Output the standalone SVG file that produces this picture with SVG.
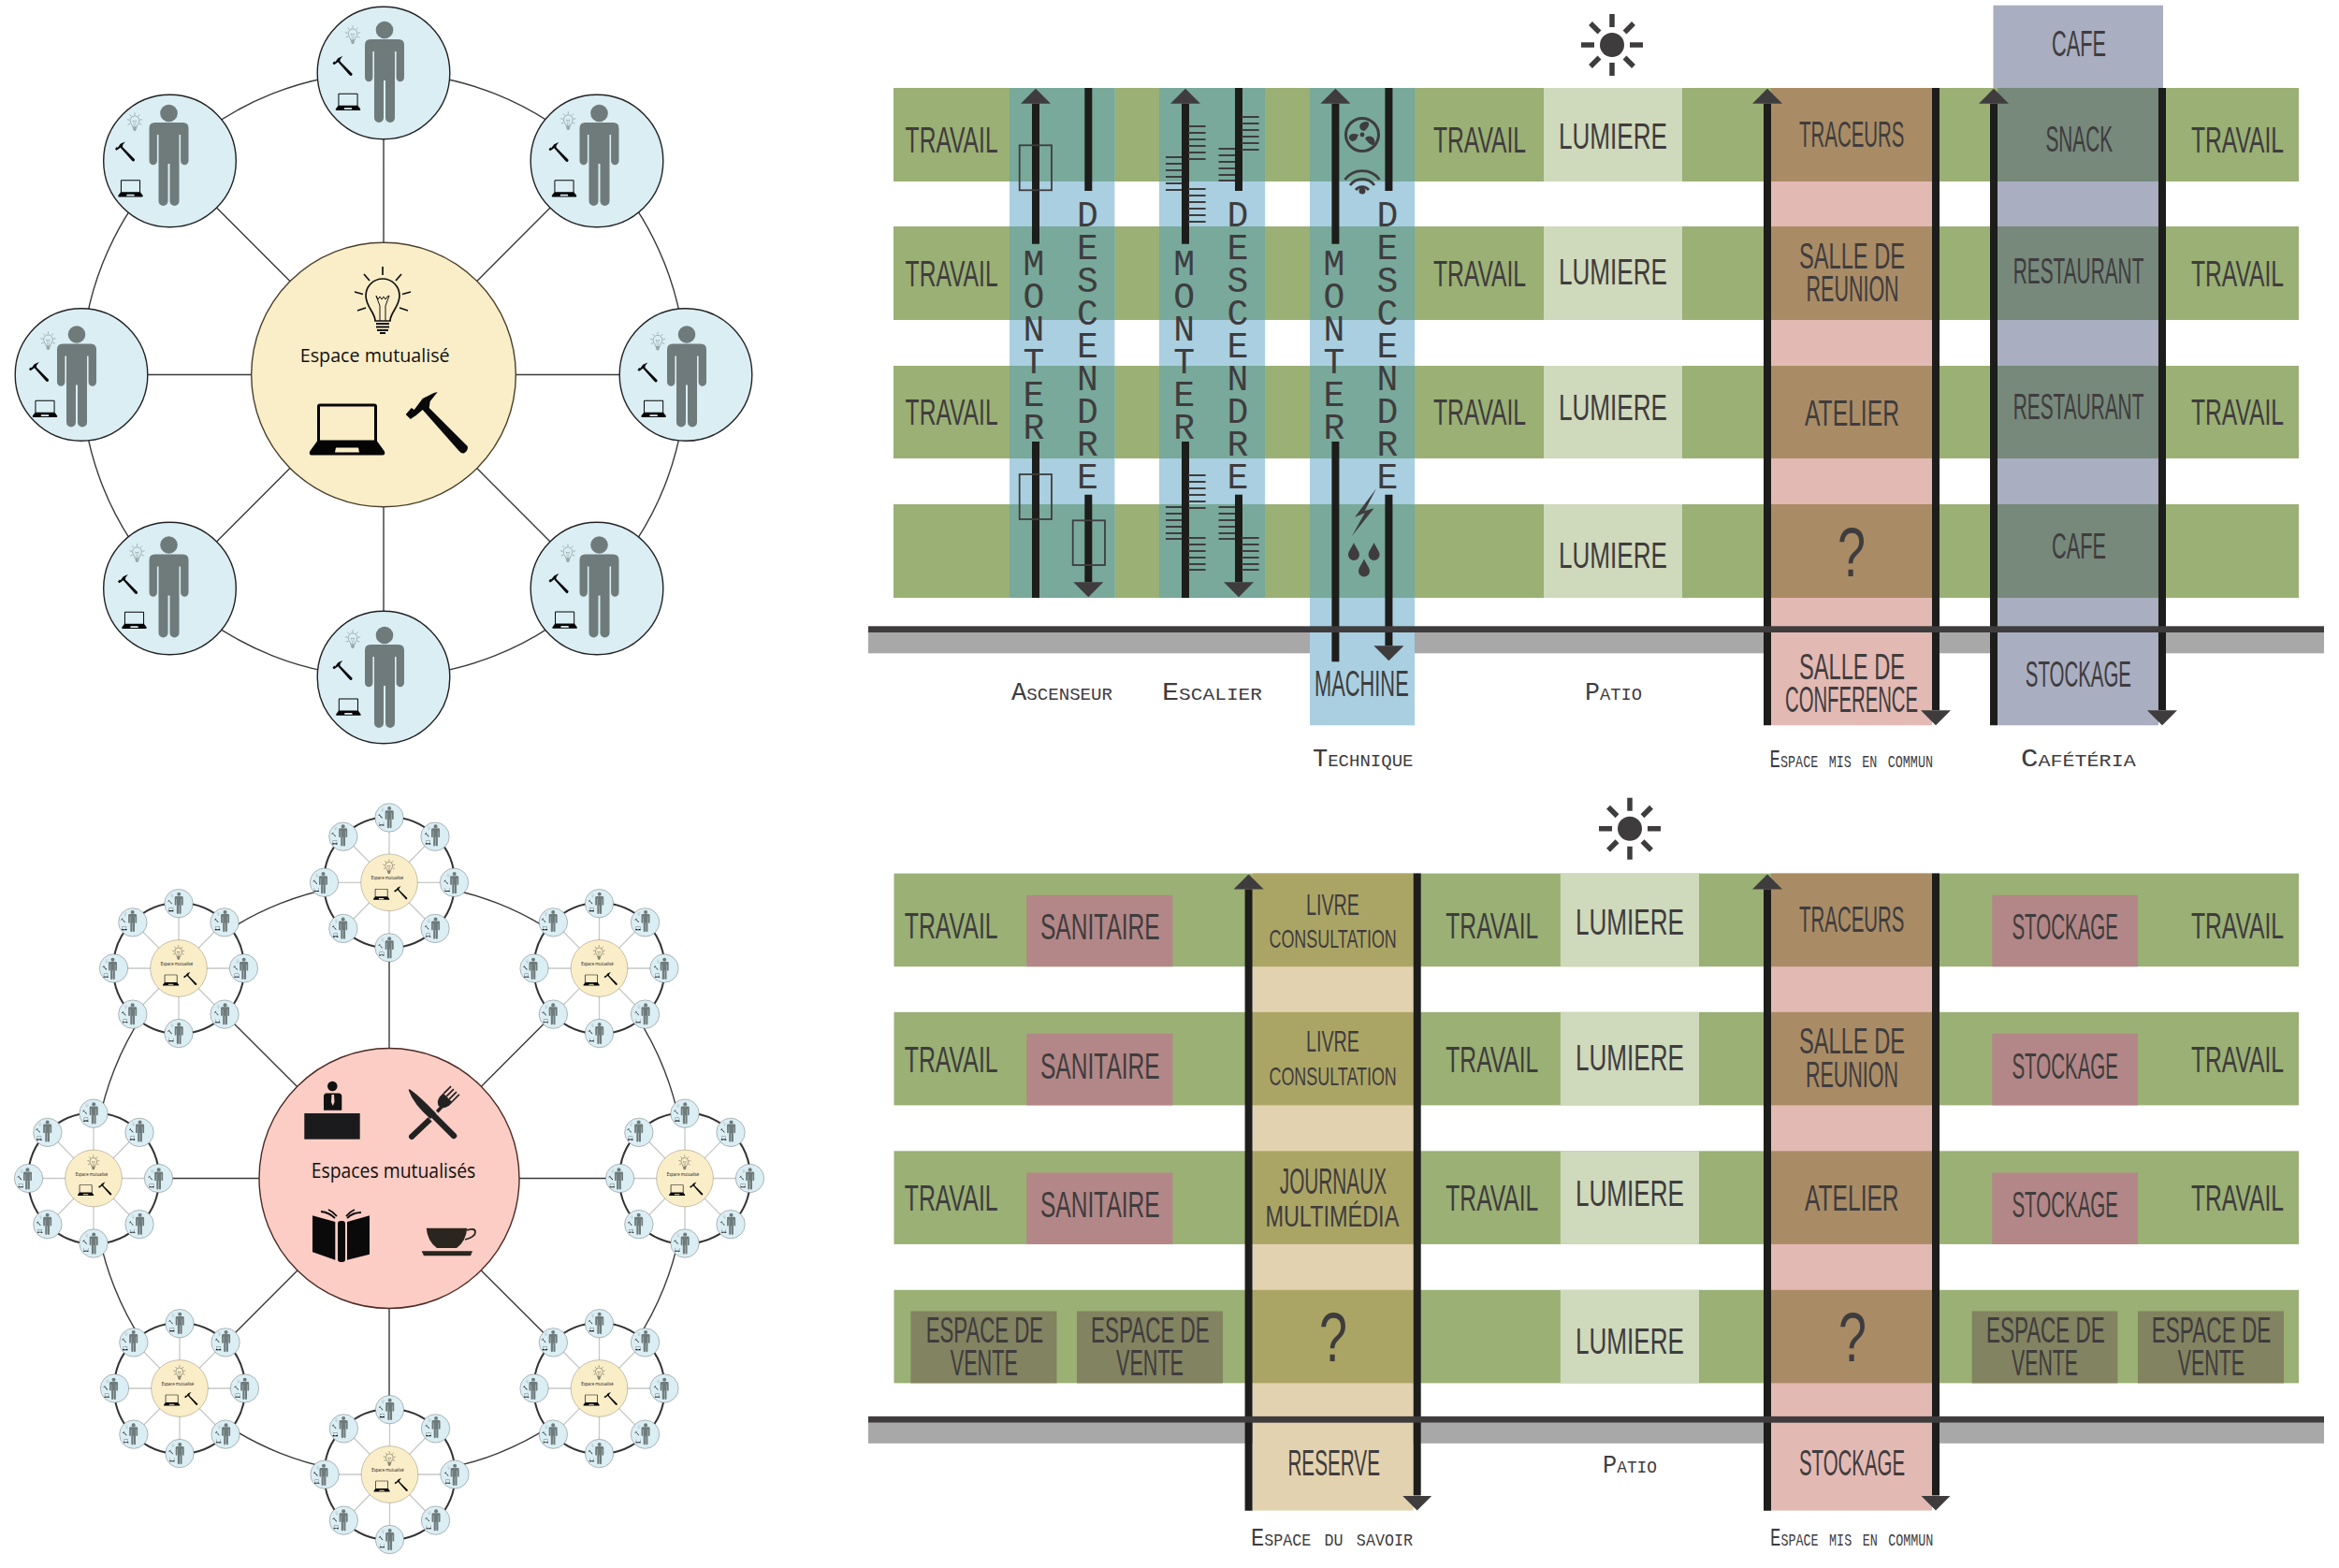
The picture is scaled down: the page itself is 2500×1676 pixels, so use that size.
<svg xmlns="http://www.w3.org/2000/svg" width="2500" height="1676" viewBox="0 0 2500 1676">
<style>
.w{fill:#fff}
.band{fill:#9ab074}
.lum{fill:#cfd9bb}
.blue{fill:#a9cfe0}.blueo{fill:#78a99a}
.pink{fill:#e3b9b3}.pinko{fill:#a98c65}
.caf{fill:#a9aec0}.cafo{fill:#76897b}
.sav{fill:#e3d2af}.savo{fill:#aba565}
.san{fill:#b38787}.ven{fill:#828360}
.gray{fill:#a9a8a8}.gl{fill:#3f3c3e}
.t{font-family:"Liberation Sans",Arial,sans-serif;font-size:38px;fill:#3f3c3e}
.t2{font-family:"Liberation Sans",Arial,sans-serif;font-size:31px;fill:#3f3c3e}
.t3{font-family:"Liberation Sans",Arial,sans-serif;font-size:28px;fill:#3f3c3e}
.q{font-family:"Liberation Sans",Arial,sans-serif;font-size:75px;fill:#3f3c3e}
.v{font-family:"Liberation Mono",monospace;font-size:38px;fill:#3f3c3e;writing-mode:vertical-rl;text-orientation:upright;letter-spacing:-8px}
.s{font-family:"Liberation Mono",monospace;font-size:27px;fill:#3f3c3e;font-variant:small-caps}
.shaft{stroke:#1d1d1b;stroke-width:8;fill:none}
.tick{stroke:#3f3c3e;stroke-width:2.2;fill:none}
.box{stroke:#3f3c3e;stroke-width:1.8;fill:none}
.ink{fill:#3f3c3e}
.nd{fill:#daeef4;stroke:#222;stroke-width:1.4}
.ctr{fill:#faeec9;stroke:#4a3f2a;stroke-width:1.4}
.ctr2{fill:#fbcdc5;stroke:#4d2a25;stroke-width:1.4}
.ln{fill:none;stroke:#3a3a3a;stroke-width:1.4}
.lab{font-family:"Open Sans","Noto Sans",sans-serif;fill:#111}
.small{color:#5a6664}
.mr{fill:none;stroke:#333;stroke-width:2}
.ms{stroke:#c6c9c6;stroke-width:1.3}
</style>
<defs>
<marker id="ah" markerUnits="userSpaceOnUse" markerWidth="16" markerHeight="32" viewBox="0 0 16 32" refX="0" refY="16" orient="auto"><path d="M0,0 L16,16 L0,32 Z" fill="#3f3c3e"/></marker>
<g id="bulb" fill="none" stroke="currentColor" stroke-width="1.7">
<path d="M-8,26 C-8,17 -18,11 -18,-1 A18,18 0 1 1 18,-1 C18,11 8,17 8,26 Z"/>
<path stroke-width="1" d="M-7,-1 L-5,3 -3,0 -1,3 1,0 3,3 5,0 7,-1 L3,10 V26 M-7,-1 L-3,10 V26"/>
<path stroke-width="2" d="M-7,29 H7 M-7,32.5 H7 M-6,36 H6 M-3,39 H3"/>
<path d="M0,-32 V-23 M-20,-24 L-14,-17 M20,-24 L14,-17 M-30,-5 L-21,-2.5 M30,-5 L21,-2.5 M-27,15 L-18,12 M27,15 L18,12"/>
</g>
<path id="laptop" fill-rule="evenodd" fill="#050505" d="M-32,-25 Q-32,-28 -29,-28 H29 Q32,-28 32,-25 V12 L40,23 Q41,27 38,27 H-38 Q-41,27 -40,23 L-32,12 Z M-29,-25 V11 H29 V-25 Z M-12,19 H12 L13,24 H-13 Z"/>
<path id="hammer" fill="#0a0a0a" d="M-33,-7 L-27,-14 L-24,-12 L-15,-24 L-3,-30 L1,-31 L-7,-21 L-8,-14 L33,27 Q34,31 30,34 Q27,36 23,31 L-15,-12 L-22,-6 L-28,-2 Z"/>
<g id="person" fill="#6f7b7b"><circle cy="-45" r="9.3"/><path d="M-15,-35 H15 Q21,-35 21,-29 V6 A4.2,4.2 0 0 1 12.6,6 V-22 H11 V49 A5,5 0 0 1 1,49 V9 H-1 V49 A5,5 0 0 1 -11,49 V-22 H-12.6 V6 A4.2,4.2 0 0 1 -21,6 V-29 Q-21,-35 -15,-35 Z"/></g>
<path id="drop" class="ink" d="M0,-9 C2,-4 6,0 6,4 A6,6 0 0 1 -6,4 C-6,0 -2,-4 0,-9Z"/>
<g id="sun"><circle r="13" class="ink"/><path stroke="#3f3c3e" stroke-width="5.5" d="M0,-33 V-19 M0,33 V19 M-33,0 H-19 M33,0 H19 M-23,-23 L-13.5,-13.5 M23,-23 L13.5,-13.5 M-23,23 L-13.5,13.5 M23,23 L13.5,13.5"/></g>
<g id="mini">
<circle r="76" class="w"/>
<circle r="70" class="mr"/>
<path class="ms" d="M0,-70 V70 M-70,0 H70 M-49,-50 L49,50 M-49,50 L49,-50"/>
<use href="#cluster-nodes" transform="scale(.215) translate(-410,-400.5)"/>
</g>
</defs>
<rect width="2500" height="1676" fill="#fff"/>

<g id="connectors-main">
<circle cx="410" cy="400.5" r="323" class="ln"/>
<path class="ln" d="M410,78 V724 M87,400.5 H733 M181.5,172 L638,629 M181.5,629 L638,172"/>
</g>
<g id="cluster-nodes">
<g id="center-main">
<circle cx="410" cy="400.5" r="141.3" class="ctr"/>
<use href="#bulb" x="409" y="317" color="#111"/>
<text class="lab" x="320.7" y="387.3" font-size="20.5" textLength="160" lengthAdjust="spacingAndGlyphs">Espace mutualisé</text>
<use href="#laptop" x="371" y="459.5"/>
<use href="#hammer" x="466.7" y="450"/>
</g>
<g id="node-top" transform="translate(0,-1)"><circle cx="410" cy="79" r="70.8" class="nd"/><use href="#person" x="411" y="78"/><g class="small"><use href="#bulb" transform="translate(377,37) scale(.27)"/></g><use href="#hammer" transform="translate(366,71) scale(.32)"/><use href="#laptop" transform="translate(372,110) scale(.33)"/></g>
<g id="node-upper-left" transform="translate(0,-2)"><circle cx="181.5" cy="174" r="70.8" class="nd"/><use href="#person" x="180.5" y="168"/><g class="small"><use href="#bulb" transform="translate(144,131) scale(.27)"/></g><use href="#hammer" transform="translate(133.5,163.5) scale(.32)"/><use href="#laptop" transform="translate(139.5,203.5) scale(.33)"/></g>
<g id="node-upper-right" transform="translate(0,-2)"><circle cx="638" cy="174" r="70.8" class="nd"/><use href="#person" x="640.5" y="168"/><g class="small"><use href="#bulb" transform="translate(607.3,130) scale(.27)"/></g><use href="#hammer" transform="translate(597,164) scale(.32)"/><use href="#laptop" transform="translate(603,203.5) scale(.33)"/></g>
<g id="node-left" transform="translate(0,-5)"><circle cx="87" cy="405.5" r="70.8" class="nd"/><use href="#person" x="82" y="407.5"/><g class="small"><use href="#bulb" transform="translate(51.5,368) scale(.27)"/></g><use href="#hammer" transform="translate(41.5,402) scale(.32)"/><use href="#laptop" transform="translate(48,442) scale(.33)"/></g>
<g id="node-right" transform="translate(0,-5)"><circle cx="733" cy="405.5" r="70.8" class="nd"/><use href="#person" x="734" y="407.5"/><g class="small"><use href="#bulb" transform="translate(703,368.5) scale(.27)"/></g><use href="#hammer" transform="translate(692,402.5) scale(.32)"/><use href="#laptop" transform="translate(698.6,442) scale(.33)"/></g>
<g id="node-bottom" transform="translate(0,-9)"><circle cx="410" cy="733" r="70.8" class="nd"/><use href="#person" x="411" y="733"/><g class="small"><use href="#bulb" transform="translate(377,691) scale(.27)"/></g><use href="#hammer" transform="translate(366,725) scale(.32)"/><use href="#laptop" transform="translate(372.4,764.8) scale(.33)"/></g>
<g id="node-lower-left" transform="translate(0,-8)"><circle cx="181.5" cy="637" r="70.8" class="nd"/><use href="#person" x="180.5" y="635.5"/><g class="small"><use href="#bulb" transform="translate(146.5,598) scale(.27)"/></g><use href="#hammer" transform="translate(136.5,632) scale(.32)"/><use href="#laptop" transform="translate(143.5,671) scale(.33)"/></g>
<g id="node-lower-right" transform="translate(0,-8)"><circle cx="638" cy="637" r="70.8" class="nd"/><use href="#person" x="640.5" y="635.5"/><g class="small"><use href="#bulb" transform="translate(607,598) scale(.27)"/></g><use href="#hammer" transform="translate(597,631.2) scale(.32)"/><use href="#laptop" transform="translate(603.6,670.8) scale(.33)"/></g>
</g>

<g id="connectors-network">
<circle cx="416" cy="1259.5" r="316" class="ln"/>
<path class="ln" d="M416,943 V1576 M100,1259.5 H732 M191,1035 L640.5,1484 M192,1484 L640.5,1035"/>
</g>
<g id="center-network">
<circle cx="416" cy="1259.5" r="139" class="ctr2"/>
<g id="desk"><rect x="325.3" y="1190" width="59.4" height="27.7" fill="#1b1b1d"/><circle cx="355.3" cy="1161" r="5.3" fill="#111"/><path fill-rule="evenodd" fill="#111" d="M349,1168.5 H362 Q365.3,1168.5 365.3,1172 V1186.7 H346 V1172 Q346,1168.5 349,1168.5 Z M354.5,1170 L354,1178 L355.8,1182 L357.5,1178 L357,1170 Z"/></g>
<g id="cutlery"><path d="M440,1215 L460,1196" stroke="#222" stroke-width="6" stroke-linecap="round"/><path d="M460,1196 L474,1181" stroke="#222" stroke-width="3.5"/><g transform="translate(473,1179) rotate(45)" fill="none" stroke="#222"><path fill="#222" stroke="none" d="M-7,-8 H7 V-3 Q6,3 1.5,5 H-1.5 Q-6,3 -7,-3 Z"/><path stroke-width="1.7" d="M-6.2,-8 V-19 M-2.1,-8 V-19 M2.1,-8 V-19 M6.2,-8 V-19"/></g><path d="M441,1170 L484,1213" stroke="#fbcdc5" stroke-width="11"/><path d="M461,1190 L485,1214" stroke="#222" stroke-width="6.5" stroke-linecap="round"/><path d="M437,1166 Q436,1163 439,1165 Q450,1173 466,1190 L460,1196 Q442,1180 437,1166 Z" fill="#222"/></g>
<text class="lab" x="332.7" y="1259.3" font-size="21.5" textLength="175.6" lengthAdjust="spacingAndGlyphs">Espaces mutualisés</text>
<g id="book" fill="#0a0a0a"><path d="M334,1299.3 L358.3,1306 V1346.7 L334,1338.3 Z M371,1306 L395,1299.3 V1340.7 L371,1346.7 Z"/><rect x="361" y="1305" width="8" height="44" rx="3"/><path fill="none" stroke="#0a0a0a" stroke-width="1.8" d="M343,1295 Q352,1296 358,1302 M351,1293 Q356,1295 360,1300 M371,1302 Q377,1296 386,1296 M370,1300 Q374,1295 379,1293"/></g>
<g id="cup" fill="#2a251f"><path d="M455.7,1312.7 H499.3 Q498,1327 488,1334 H467 Q457,1327 455.7,1312.7 Z"/><path fill="none" stroke="#2a251f" stroke-width="1.8" d="M499,1315 Q508,1312 508,1317 Q508,1322 497,1325"/><path d="M450.7,1337.3 H505 L503,1342.3 H453 Z"/></g>
</g>
<g id="cluster-n1"><use href="#mini" x="416" y="943.3"/></g>
<g id="cluster-n2"><use href="#mini" x="640.5" y="1035"/></g>
<g id="cluster-n3"><use href="#mini" x="732" y="1259.5"/></g>
<g id="cluster-n4"><use href="#mini" x="640.5" y="1484"/></g>
<g id="cluster-n5"><use href="#mini" x="416.5" y="1576"/></g>
<g id="cluster-n6"><use href="#mini" x="192" y="1484"/></g>
<g id="cluster-n7"><use href="#mini" x="100" y="1259.5"/></g>
<g id="cluster-n8"><use href="#mini" x="191" y="1035"/></g>

<g id="section-top">
<use href="#sun" x="1723" y="48"/>
<g id="bands-top">
<rect class="band" x="955" y="94" width="1502" height="100"/><rect class="band" x="955" y="242" width="1502" height="100"/><rect class="band" x="955" y="391" width="1502" height="99"/><rect class="band" x="955" y="539" width="1502" height="100"/>
<rect class="lum" x="1650" y="94" width="148" height="100"/><rect class="lum" x="1650" y="242" width="148" height="100"/><rect class="lum" x="1650" y="391" width="148" height="99"/><rect class="lum" x="1650" y="539" width="148" height="100"/>
<rect class="gray" x="928" y="676" width="1556" height="22.3"/>
</g>
<g id="col-ascenseur">
<rect class="blue" x="1079" y="94" width="112.4" height="545"/>
<rect class="blueo" x="1079" y="94" width="112.4" height="100"/><rect class="blueo" x="1079" y="242" width="112.4" height="100"/><rect class="blueo" x="1079" y="391" width="112.4" height="99"/><rect class="blueo" x="1079" y="539" width="112.4" height="100"/>
</g>
<g id="col-escalier">
<rect class="blue" x="1239" y="94" width="113" height="545"/>
<rect class="blueo" x="1239" y="94" width="113" height="100"/><rect class="blueo" x="1239" y="242" width="113" height="100"/><rect class="blueo" x="1239" y="391" width="113" height="99"/><rect class="blueo" x="1239" y="539" width="113" height="100"/>
</g>
<g id="col-technique">
<rect class="blue" x="1400" y="94" width="112" height="681.3"/>
<rect class="blueo" x="1400" y="94" width="112" height="100"/><rect class="blueo" x="1400" y="242" width="112" height="100"/><rect class="blueo" x="1400" y="391" width="112" height="99"/><rect class="blueo" x="1400" y="539" width="112" height="100"/>
</g>
<g id="col-commun-top">
<rect class="pink" x="1893" y="94" width="172" height="681.3"/>
<rect class="pinko" x="1893" y="94" width="172" height="100"/><rect class="pinko" x="1893" y="242" width="172" height="100"/><rect class="pinko" x="1893" y="391" width="172" height="99"/><rect class="pinko" x="1893" y="539" width="172" height="100"/>
</g>
<g id="col-cafeteria">
<rect class="caf" x="2130.5" y="5.7" width="181.5" height="88.3"/>
<rect class="caf" x="2135" y="94" width="172" height="681.3"/>
<rect class="cafo" x="2135" y="94" width="172" height="100"/><rect class="cafo" x="2135" y="242" width="172" height="100"/><rect class="cafo" x="2135" y="391" width="172" height="99"/><rect class="cafo" x="2135" y="539" width="172" height="100"/>
</g>
<g id="connectors-top">
<path class="shaft" d="M1107,472 V639"/>
<line class="shaft" x1="1107" y1="260.7" x2="1107" y2="110.7" marker-end="url(#ah)"/>
<path class="shaft" d="M1163.3,94 V204"/>
<line class="shaft" x1="1163.3" y1="528.7" x2="1163.3" y2="622.3" marker-end="url(#ah)"/>
<path class="shaft" d="M1267,472 V639"/>
<line class="shaft" x1="1267" y1="260.7" x2="1267" y2="110.7" marker-end="url(#ah)"/>
<path class="shaft" d="M1324,94 V204"/>
<line class="shaft" x1="1324" y1="528.7" x2="1324" y2="622.3" marker-end="url(#ah)"/>
<path class="shaft" d="M1427.4,472 V707.3"/>
<line class="shaft" x1="1427.4" y1="260.7" x2="1427.4" y2="110.7" marker-end="url(#ah)"/>
<path class="shaft" d="M1484.4,94 V204"/>
<line class="shaft" x1="1484.4" y1="528.7" x2="1484.4" y2="690.3" marker-end="url(#ah)"/>
<line class="shaft" x1="1889" y1="775.3" x2="1889" y2="110.7" marker-end="url(#ah)"/>
<line class="shaft" x1="2069" y1="94" x2="2069" y2="759.3" marker-end="url(#ah)"/>
<line class="shaft" x1="2131" y1="775.3" x2="2131" y2="110.7" marker-end="url(#ah)"/>
<line class="shaft" x1="2311" y1="94" x2="2311" y2="759.3" marker-end="url(#ah)"/>
</g>
<rect class="gl" x="928" y="669.3" width="1556" height="6.7"/>
<g id="lifts"><rect class="box" x="1089.7" y="155.3" width="34.3" height="48"/><rect class="box" x="1089.7" y="507" width="34.3" height="48"/><rect class="box" x="1146.7" y="556.3" width="34.3" height="47.7"/></g>
<g id="stairs">
<path class="tick" d="M1270,135 H1288.6 M1270,142 H1288.6 M1270,149 H1288.6 M1270,156 H1288.6 M1270,163 H1288.6 M1270,170 H1288.6 M1246,168 H1263 M1246,175 H1263 M1246,182 H1263 M1246,189 H1263 M1246,196 H1263 M1246,203 H1263 M1270,202 H1288.6 M1270,209 H1288.6 M1270,216 H1288.6 M1270,223 H1288.6 M1270,230 H1288.6 M1270,237 H1288.6"/>
<path class="tick" d="M1327,125 H1345.6 M1327,132 H1345.6 M1327,139 H1345.6 M1327,146 H1345.6 M1327,153 H1345.6 M1327,160 H1345.6 M1302.5,159 H1320 M1302.5,166 H1320 M1302.5,173 H1320 M1302.5,180 H1320 M1302.5,187 H1320 M1302.5,193 H1320"/>
<path class="tick" d="M1270,508 H1288.6 M1270,515 H1288.6 M1270,522 H1288.6 M1270,529 H1288.6 M1270,536 H1288.6 M1270,543 H1288.6 M1246,542 H1263 M1246,549 H1263 M1246,556 H1263 M1246,563 H1263 M1246,570 H1263 M1246,576 H1263 M1270,575 H1288.6 M1270,582 H1288.6 M1270,589 H1288.6 M1270,596 H1288.6 M1270,603 H1288.6 M1270,609 H1288.6"/>
<path class="tick" d="M1302.5,542 H1320 M1302.5,549 H1320 M1302.5,556 H1320 M1302.5,563 H1320 M1302.5,570 H1320 M1302.5,576 H1320 M1327,575 H1345.6 M1327,582 H1345.6 M1327,589 H1345.6 M1327,596 H1345.6 M1327,603 H1345.6 M1327,609 H1345.6"/>
</g>
<g id="technique-icons">
<circle cx="1456" cy="144" r="17.5" fill="none" stroke="#3f3c3e" stroke-width="3"/><circle cx="1456" cy="144" r="2.4" class="ink"/>
<path class="ink" d="M1455,139 C1451,135 1454,130 1461,130 C1465,131 1463,137 1458,140 Z M1461,146 C1466,144 1471,148 1469,154 C1466,157 1462,152 1459,148 Z M1451,146 C1450,151 1444,153 1442,148 C1441,143 1447,142 1452,144 Z"/>
<path fill="none" stroke="#3f3c3e" stroke-width="2.8" d="M1437.5,192 A23,23 0 0 1 1474.5,192 M1443,198 A16,16 0 0 1 1469,198 M1449,203 A9,9 0 0 1 1463,203"/><circle cx="1456" cy="204" r="3.5" class="ink"/>
<polygon class="ink" points="1471,522.3 1448,552.7 1458.7,548.3 1444.8,573.3 1468.6,543.3 1458.7,546"/>
<use href="#drop" x="1447" y="589"/><use href="#drop" x="1468.6" y="589"/><use href="#drop" x="1458" y="606.5"/>
</g>
<g id="labels-top">
<text class="v" x="1105" y="261.7">MONTER</text>
<text class="v" x="1162.5" y="210.4">DESCENDRE</text>
<text class="v" x="1265.7" y="261.7">MONTER</text>
<text class="v" x="1323" y="210.4">DESCENDRE</text>
<text class="v" x="1426" y="261.7">MONTER</text>
<text class="v" x="1483" y="210.4">DESCENDRE</text>
<text class="t" x="967.6" y="163.3" textLength="99" lengthAdjust="spacingAndGlyphs">TRAVAIL</text>
<text class="t" x="967.6" y="306" textLength="99" lengthAdjust="spacingAndGlyphs">TRAVAIL</text>
<text class="t" x="967.6" y="454.3" textLength="99" lengthAdjust="spacingAndGlyphs">TRAVAIL</text>
<text class="t" x="1532" y="163.3" textLength="99" lengthAdjust="spacingAndGlyphs">TRAVAIL</text>
<text class="t" x="1532" y="306" textLength="99" lengthAdjust="spacingAndGlyphs">TRAVAIL</text>
<text class="t" x="1532" y="454.3" textLength="99" lengthAdjust="spacingAndGlyphs">TRAVAIL</text>
<text class="t" x="2342" y="163.3" textLength="99" lengthAdjust="spacingAndGlyphs">TRAVAIL</text>
<text class="t" x="2342" y="306" textLength="99" lengthAdjust="spacingAndGlyphs">TRAVAIL</text>
<text class="t" x="2342" y="454.3" textLength="99" lengthAdjust="spacingAndGlyphs">TRAVAIL</text>
<text class="t" x="1666" y="158.5" textLength="116" lengthAdjust="spacingAndGlyphs">LUMIERE</text>
<text class="t" x="1666" y="303.5" textLength="116" lengthAdjust="spacingAndGlyphs">LUMIERE</text>
<text class="t" x="1666" y="448.5" textLength="116" lengthAdjust="spacingAndGlyphs">LUMIERE</text>
<text class="t" x="1666" y="606.5" textLength="116" lengthAdjust="spacingAndGlyphs">LUMIERE</text>
<text class="t" x="1405" y="744" textLength="100.7" lengthAdjust="spacingAndGlyphs">MACHINE</text>
<text class="t" x="1923" y="156.7" textLength="112.5" lengthAdjust="spacingAndGlyphs">TRACEURS</text>
<text class="t" x="1923" y="286.7" textLength="113" lengthAdjust="spacingAndGlyphs">SALLE DE</text>
<text class="t" x="1930.6" y="321.7" textLength="99" lengthAdjust="spacingAndGlyphs">REUNION</text>
<text class="t" x="1929" y="455" textLength="101" lengthAdjust="spacingAndGlyphs">ATELIER</text>
<text class="q" x="1964" y="616" textLength="30" lengthAdjust="spacingAndGlyphs">?</text>
<text class="t" x="1923" y="726" textLength="113" lengthAdjust="spacingAndGlyphs">SALLE DE</text>
<text class="t" x="1908" y="761" textLength="142" lengthAdjust="spacingAndGlyphs">CONFERENCE</text>
<text class="t" x="2193" y="60" textLength="58" lengthAdjust="spacingAndGlyphs">CAFE</text>
<text class="t" x="2186.4" y="161.7" textLength="71.6" lengthAdjust="spacingAndGlyphs">SNACK</text>
<text class="t" x="2151.7" y="303.3" textLength="139.7" lengthAdjust="spacingAndGlyphs">RESTAURANT</text>
<text class="t" x="2151.7" y="448.3" textLength="139.7" lengthAdjust="spacingAndGlyphs">RESTAURANT</text>
<text class="t" x="2193" y="596.7" textLength="58" lengthAdjust="spacingAndGlyphs">CAFE</text>
<text class="t" x="2164.8" y="734" textLength="113.2" lengthAdjust="spacingAndGlyphs">STOCKAGE</text>
<text class="s" x="1081" y="748" textLength="108" lengthAdjust="spacingAndGlyphs">Ascenseur</text>
<text class="s" x="1242" y="748" textLength="107" lengthAdjust="spacingAndGlyphs">Escalier</text>
<text class="s" x="1403" y="819" textLength="107.5" lengthAdjust="spacingAndGlyphs">Technique</text>
<text class="s" x="1694" y="748" textLength="61" lengthAdjust="spacingAndGlyphs">Patio</text>
<text class="s" x="1891.6" y="820" textLength="174.4" lengthAdjust="spacingAndGlyphs">Espace mis en commun</text>
<text class="s" x="2160" y="819" textLength="122.7" lengthAdjust="spacingAndGlyphs">Cafétéria</text>
</g>
</g>

<g id="section-bottom" transform="translate(0,-1.2)">
<use href="#sun" x="1742" y="887"/>
<g id="bands-bottom">
<rect class="band" x="955.5" y="934.8" width="1501.5" height="99.6"/><rect class="band" x="955.5" y="1083" width="1501.5" height="99.6"/><rect class="band" x="955.5" y="1231.5" width="1501.5" height="99.6"/><rect class="band" x="955.5" y="1380" width="1501.5" height="99.6"/>
<rect class="lum" x="1667.8" y="934.8" width="148.2" height="99.6"/><rect class="lum" x="1667.8" y="1083" width="148.2" height="99.6"/><rect class="lum" x="1667.8" y="1231.5" width="148.2" height="99.6"/><rect class="lum" x="1667.8" y="1380" width="148.2" height="99.6"/>
<rect class="san" x="1097.3" y="958" width="156.2" height="76.4"/><rect class="san" x="1097.3" y="1106" width="156.2" height="76.6"/><rect class="san" x="1097.3" y="1254.6" width="156.2" height="76.5"/>
<rect class="san" x="2129.3" y="958" width="155.7" height="76.4"/><rect class="san" x="2129.3" y="1106" width="155.7" height="76.6"/><rect class="san" x="2129.3" y="1254.6" width="155.7" height="76.5"/>
<rect class="ven" x="973.4" y="1402.7" width="156.1" height="76.9"/><rect class="ven" x="1151" y="1402.7" width="156" height="76.9"/><rect class="ven" x="2107.7" y="1402.7" width="155.7" height="76.9"/><rect class="ven" x="2285" y="1402.7" width="156" height="76.9"/>
<rect class="gray" x="928" y="1521.9" width="1556" height="22.1"/>
</g>
<g id="col-savoir">
<rect class="sav" x="1338.7" y="934.8" width="172" height="681"/>
<rect class="savo" x="1338.7" y="934.8" width="172" height="99.6"/><rect class="savo" x="1338.7" y="1083" width="172" height="99.6"/><rect class="savo" x="1338.7" y="1231.5" width="172" height="99.6"/><rect class="savo" x="1338.7" y="1380" width="172" height="99.6"/>
</g>
<g id="col-commun-bottom">
<rect class="pink" x="1893" y="934.8" width="172" height="681"/>
<rect class="pinko" x="1893" y="934.8" width="172" height="99.6"/><rect class="pinko" x="1893" y="1083" width="172" height="99.6"/><rect class="pinko" x="1893" y="1231.5" width="172" height="99.6"/><rect class="pinko" x="1893" y="1380" width="172" height="99.6"/>
</g>
<g id="connectors-bottom">
<line class="shaft" x1="1334.6" y1="1616" x2="1334.6" y2="951.7" marker-end="url(#ah)"/>
<line class="shaft" x1="1514.7" y1="934.8" x2="1514.7" y2="1599.7" marker-end="url(#ah)"/>
<line class="shaft" x1="1889" y1="1616" x2="1889" y2="951.7" marker-end="url(#ah)"/>
<line class="shaft" x1="2069" y1="934.8" x2="2069" y2="1599.7" marker-end="url(#ah)"/>
</g>
<rect class="gl" x="928" y="1515.1" width="1556" height="6.8"/>
<g id="labels-bottom">
<text class="t" x="966.7" y="1003.8" textLength="100" lengthAdjust="spacingAndGlyphs">TRAVAIL</text>
<text class="t" x="966.7" y="1147.7" textLength="100" lengthAdjust="spacingAndGlyphs">TRAVAIL</text>
<text class="t" x="966.7" y="1295.7" textLength="100" lengthAdjust="spacingAndGlyphs">TRAVAIL</text>
<text class="t" x="1545.3" y="1003.8" textLength="99" lengthAdjust="spacingAndGlyphs">TRAVAIL</text>
<text class="t" x="1545.3" y="1147.7" textLength="99" lengthAdjust="spacingAndGlyphs">TRAVAIL</text>
<text class="t" x="1545.3" y="1295.7" textLength="99" lengthAdjust="spacingAndGlyphs">TRAVAIL</text>
<text class="t" x="2342" y="1003.8" textLength="99" lengthAdjust="spacingAndGlyphs">TRAVAIL</text>
<text class="t" x="2342" y="1147.7" textLength="99" lengthAdjust="spacingAndGlyphs">TRAVAIL</text>
<text class="t" x="2342" y="1295.7" textLength="99" lengthAdjust="spacingAndGlyphs">TRAVAIL</text>
<text class="t" x="1112" y="1005.4" textLength="127.7" lengthAdjust="spacingAndGlyphs">SANITAIRE</text>
<text class="t" x="1112" y="1154" textLength="127.7" lengthAdjust="spacingAndGlyphs">SANITAIRE</text>
<text class="t" x="1112" y="1302" textLength="127.7" lengthAdjust="spacingAndGlyphs">SANITAIRE</text>
<text class="t" x="2150.4" y="1005.4" textLength="113.6" lengthAdjust="spacingAndGlyphs">STOCKAGE</text>
<text class="t" x="2150.4" y="1154" textLength="113.6" lengthAdjust="spacingAndGlyphs">STOCKAGE</text>
<text class="t" x="2150.4" y="1302" textLength="113.6" lengthAdjust="spacingAndGlyphs">STOCKAGE</text>
<text class="t" x="1684" y="1000" textLength="116" lengthAdjust="spacingAndGlyphs">LUMIERE</text>
<text class="t" x="1684" y="1145" textLength="116" lengthAdjust="spacingAndGlyphs">LUMIERE</text>
<text class="t" x="1684" y="1290" textLength="116" lengthAdjust="spacingAndGlyphs">LUMIERE</text>
<text class="t" x="1684" y="1448" textLength="116" lengthAdjust="spacingAndGlyphs">LUMIERE</text>
<text class="t2" x="1396" y="979" textLength="57" lengthAdjust="spacingAndGlyphs">LIVRE</text>
<text class="t3" x="1356.5" y="1014.4" textLength="136.3" lengthAdjust="spacingAndGlyphs">CONSULTATION</text>
<text class="t2" x="1396" y="1125" textLength="57" lengthAdjust="spacingAndGlyphs">LIVRE</text>
<text class="t3" x="1356.5" y="1160.9" textLength="136.3" lengthAdjust="spacingAndGlyphs">CONSULTATION</text>
<text class="t" x="1367.8" y="1276.8" textLength="114.2" lengthAdjust="spacingAndGlyphs">JOURNAUX</text>
<text class="t2" x="1352.4" y="1312" textLength="142.9" lengthAdjust="spacingAndGlyphs">MULTIMÉDIA</text>
<text class="q" x="1410" y="1456" textLength="30" lengthAdjust="spacingAndGlyphs">?</text>
<text class="t" x="1376.4" y="1578" textLength="98.6" lengthAdjust="spacingAndGlyphs">RESERVE</text>
<text class="t" x="1923" y="997.5" textLength="112.5" lengthAdjust="spacingAndGlyphs">TRACEURS</text>
<text class="t" x="1923" y="1127.7" textLength="113" lengthAdjust="spacingAndGlyphs">SALLE DE</text>
<text class="t" x="1930" y="1163.5" textLength="99" lengthAdjust="spacingAndGlyphs">REUNION</text>
<text class="t" x="1929" y="1295.7" textLength="100.6" lengthAdjust="spacingAndGlyphs">ATELIER</text>
<text class="q" x="1965" y="1456" textLength="30" lengthAdjust="spacingAndGlyphs">?</text>
<text class="t" x="1923" y="1578" textLength="113" lengthAdjust="spacingAndGlyphs">STOCKAGE</text>
<text class="t" x="989.7" y="1436.4" textLength="125.3" lengthAdjust="spacingAndGlyphs">ESPACE DE</text>
<text class="t" x="1015.7" y="1471.7" textLength="72.3" lengthAdjust="spacingAndGlyphs">VENTE</text>
<text class="t" x="1166" y="1436.4" textLength="126.8" lengthAdjust="spacingAndGlyphs">ESPACE DE</text>
<text class="t" x="1193" y="1471.7" textLength="72" lengthAdjust="spacingAndGlyphs">VENTE</text>
<text class="t" x="2123" y="1436.4" textLength="126.6" lengthAdjust="spacingAndGlyphs">ESPACE DE</text>
<text class="t" x="2150" y="1471.7" textLength="71" lengthAdjust="spacingAndGlyphs">VENTE</text>
<text class="t" x="2299.7" y="1436.4" textLength="127.7" lengthAdjust="spacingAndGlyphs">ESPACE DE</text>
<text class="t" x="2327.7" y="1471.7" textLength="71.3" lengthAdjust="spacingAndGlyphs">VENTE</text>
<text class="s" x="1713" y="1575.5" textLength="58" lengthAdjust="spacingAndGlyphs">Patio</text>
<text class="s" x="1337" y="1653.5" textLength="173" lengthAdjust="spacingAndGlyphs">Espace du savoir</text>
<text class="s" x="1892" y="1653.5" textLength="174.4" lengthAdjust="spacingAndGlyphs">Espace mis en commun</text>
</g>
</g>
</svg>
